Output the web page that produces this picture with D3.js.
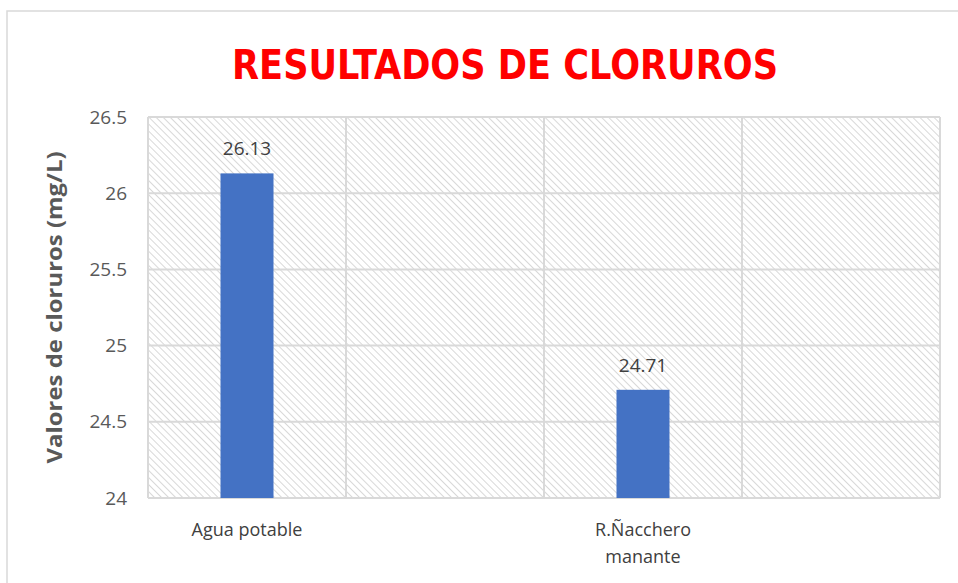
<!DOCTYPE html>
<html>
<head>
<meta charset="utf-8">
<script src="https://cdn.jsdelivr.net/npm/d3@7"></script>
<style>
  body { margin: 0; background: #fff; }
  text { font-family: "Liberation Sans Narrow", "Open Sans", sans-serif; }
</style>
</head>
<body>
<script>
// categories (the chart keeps two empty slots between the samples)
var categories = ["Agua potable", "", "R.Ñacchero manante", ""];
var values = [26.13, null, 24.71, null];
var yTicks = [24, 24.5, 25, 25.5, 26, 26.5];

var svgWidth = 958, svgHeight = 583;
var margin = { top: 117, right: 18, bottom: 85, left: 148 };
var width = svgWidth - margin.left - margin.right;
var height = svgHeight - margin.top - margin.bottom;

var svg = d3.select("body")
            .append("svg")
            .attr("width", svgWidth)
            .attr("height", svgHeight);

// hatch pattern for plot background (downward diagonal)
var pattern = svg.append("defs")
                 .append("pattern")
                 .attr("id", "hatch")
                 .attr("patternUnits", "userSpaceOnUse")
                 .attr("width", 5)
                 .attr("height", 5)
                 .attr("patternTransform", "rotate(-45)");
pattern.append("rect").attr("width", 5).attr("height", 5).attr("fill", "#fff");
pattern.append("line")
       .attr("x1", 0).attr("y1", 0).attr("x2", 0).attr("y2", 5)
       .attr("stroke", "#cfcfcf").attr("stroke-width", 1.6);

// outer chart border
svg.append("rect")
   .attr("x", 7).attr("y", 11)
   .attr("width", svgWidth).attr("height", svgHeight)
   .attr("fill", "none")
   .attr("stroke", "#d9d9d9")
   .attr("stroke-width", 1.5);

var g = svg.append("g")
           .attr("transform", "translate(" + margin.left + "," + margin.top + ")");

var xScale = d3.scaleBand()
               .domain(categories.map(function(d, i){ return i; }))
               .range([0, width])
               .paddingInner(0)
               .paddingOuter(0);

var yScale = d3.scaleLinear()
               .domain([24, 26.5])
               .range([height, 0]);

// plot background
g.append("rect")
 .attr("width", width)
 .attr("height", height)
 .attr("fill", "url(#hatch)");

// horizontal gridlines
g.selectAll(".hgrid")
 .data(yTicks)
 .enter()
 .append("line")
 .attr("x1", 0).attr("x2", width)
 .attr("y1", function(d){ return yScale(d); })
 .attr("y2", function(d){ return yScale(d); })
 .attr("stroke", "#d9d9d9")
 .attr("stroke-width", 2);

// vertical gridlines at category edges
var edges = categories.map(function(d, i){ return xScale(i); }).concat([width]);
g.selectAll(".vgrid")
 .data(edges)
 .enter()
 .append("line")
 .attr("y1", 0).attr("y2", height)
 .attr("x1", function(d){ return d; })
 .attr("x2", function(d){ return d; })
 .attr("stroke", "#d9d9d9")
 .attr("stroke-width", 2);

// y tick labels
g.selectAll(".ytick")
 .data(yTicks)
 .enter()
 .append("text")
 .attr("x", -21)
 .attr("y", function(d){ return yScale(d); })
 .attr("dy", "0.35em")
 .attr("text-anchor", "end")
 .attr("fill", "#595959")
 .style("font-size", "19px")
 .text(function(d){ return d; });

// bars
var barWidth = 53;
var bars = values.map(function(v, i){ return { i: i, v: v }; })
                 .filter(function(d){ return d.v !== null; });

g.selectAll(".bar")
 .data(bars)
 .enter()
 .append("rect")
 .attr("x", function(d){ return xScale(d.i) + xScale.bandwidth() / 2 - barWidth / 2; })
 .attr("y", function(d){ return yScale(d.v); })
 .attr("width", barWidth)
 .attr("height", function(d){ return height - yScale(d.v); })
 .attr("fill", "#4472c4");

// data labels
g.selectAll(".label")
 .data(bars)
 .enter()
 .append("text")
 .attr("x", function(d){ return xScale(d.i) + xScale.bandwidth() / 2; })
 .attr("y", function(d){ return yScale(d.v) - 18; })
 .attr("text-anchor", "middle")
 .attr("fill", "#404040")
 .style("font-size", "19px")
 .text(function(d){ return d.v.toFixed(2); });

// x category labels, long ones split in two lines
categories.forEach(function(c, i){
  if (c === "") return;
  var parts = c.indexOf(" ") > 0 && c.length > 14 ? c.split(" ") : [c];
  var t = g.append("text")
           .attr("x", xScale(i) + xScale.bandwidth() / 2)
           .attr("y", height + 38)
           .attr("text-anchor", "middle")
           .attr("fill", "#404040")
           .style("font-size", "18px");
  parts.forEach(function(p, j){
    t.append("tspan")
     .attr("x", xScale(i) + xScale.bandwidth() / 2)
     .attr("dy", j === 0 ? 0 : 27)
     .text(p);
  });
});

// title
svg.append("text")
   .attr("x", 505)
   .attr("y", 79)
   .attr("text-anchor", "middle")
   .attr("fill", "#ff0000")
   .attr("textLength", 546)
   .attr("lengthAdjust", "spacingAndGlyphs")
   .style("font-family", "'DejaVu Sans Condensed', 'DejaVu Sans', sans-serif")
   .style("font-weight", "bold")
   .style("font-size", "40px")
   .text("RESULTADOS DE CLORUROS");

// y axis title
svg.append("text")
   .attr("transform", "translate(62," + (margin.top + height / 2) + ") rotate(-90)")
   .attr("text-anchor", "middle")
   .attr("fill", "#595959")
   .attr("textLength", 312)
   .attr("lengthAdjust", "spacingAndGlyphs")
   .style("font-family", "'Open Sans', sans-serif")
   .style("font-weight", "bold")
   .style("font-size", "21px")
   .text("Valores de cloruros  (mg/L)");
</script>
</body>
</html>
